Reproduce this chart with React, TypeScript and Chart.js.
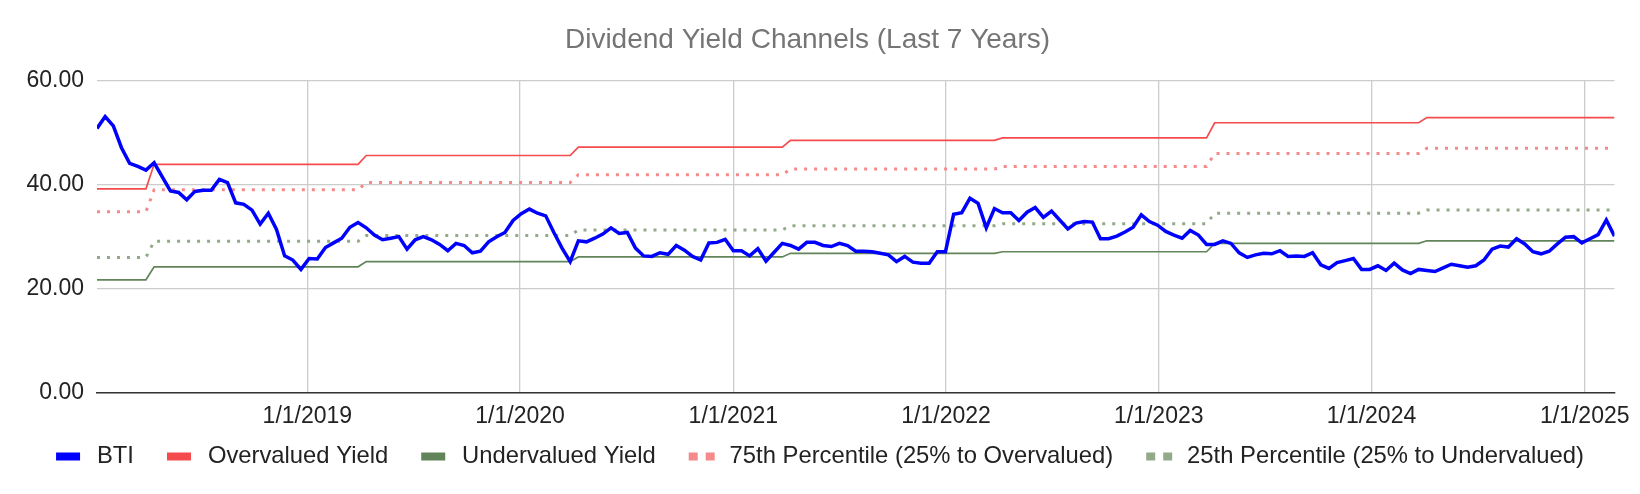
import { useEffect, useRef } from "react";
import { Chart, registerables, type ChartConfiguration, type Plugin } from "chart.js";

Chart.register(...registerables);

const DAY = 86400000;
const FIRST_DATE = Date.UTC(2018, 0, 5);
const STEP_DAYS = 14;

// BTI dividend yield, one reading every two weeks
const btiYield = [
  50.8, 53.1, 51.3, 47.1, 44.1, 43.5, 42.8, 44.2, 41.5, 38.8,
  38.5, 37.1, 38.7, 38.9, 38.9, 41.0, 40.4, 36.5, 36.2, 35.1,
  32.4, 34.5, 31.4, 26.3, 25.5, 23.7, 25.8, 25.7, 27.9, 28.8,
  29.7, 31.8, 32.7, 31.7, 30.3, 29.4, 29.7, 30.0, 27.6, 29.4,
  30.0, 29.4, 28.5, 27.3, 28.7, 28.3, 26.9, 27.2, 29.0, 30.0,
  30.8, 33.1, 34.4, 35.3, 34.5, 34.0, 30.8, 27.8, 25.2, 29.2,
  29.0, 29.7, 30.5, 31.7, 30.6, 30.8, 27.8, 26.3, 26.2, 26.9,
  26.6, 28.3, 27.4, 26.2, 25.5, 28.8, 28.9, 29.5, 27.3, 27.3,
  26.3, 27.7, 25.3, 27.0, 28.7, 28.3, 27.6, 28.9, 28.9, 28.3,
  28.1, 28.7, 28.3, 27.2, 27.2, 27.1, 26.8, 26.5, 25.2, 26.2,
  25.1, 24.9, 24.9, 27.1, 27.1, 34.3, 34.6, 37.4, 36.4, 31.7,
  35.4, 34.6, 34.6, 33.1, 34.7, 35.6, 33.7, 34.9, 33.2, 31.5,
  32.6, 32.9, 32.8, 29.6, 29.6, 30.1, 30.9, 31.8, 34.2, 32.9,
  32.2, 31.0, 30.3, 29.7, 31.2, 30.3, 28.5, 28.5, 29.2, 28.7,
  26.9, 26.0, 26.5, 26.8, 26.7, 27.3, 26.2, 26.3, 26.2, 26.9,
  24.6, 23.9, 25.0, 25.4, 25.8, 23.7, 23.7, 24.4, 23.5, 24.9,
  23.6, 22.9, 23.7, 23.5, 23.3, 24.0, 24.7, 24.4, 24.1, 24.4,
  25.5, 27.6, 28.2, 28.0, 29.6, 28.6, 27.1, 26.7, 27.2, 28.6,
  29.9, 30.0, 28.8, 29.6, 30.4, 33.2, 30.1,
];

// yield channels, reset once a year
const channelStarts = [
  "2018-01-05", "2018-04-13", "2019-04-12", "2020-04-10",
  "2021-04-09", "2022-04-08", "2023-04-07", "2024-04-05",
];
const overvaluedYield = [39.2, 43.9, 45.6, 47.2, 48.5, 49.0, 51.9, 52.9];
const pct75Yield = [34.8, 39.0, 40.4, 41.9, 43.0, 43.5, 46.0, 47.0];
const pct25Yield = [26.0, 29.1, 30.2, 31.3, 32.1, 32.5, 34.5, 35.1];
const undervaluedYield = [21.7, 24.2, 25.2, 26.1, 26.8, 27.1, 28.7, 29.2];

const yearTicks = [2019, 2020, 2021, 2022, 2023, 2024, 2025];
const yTicks = [0, 20, 40, 60];

const seriesNames = [
  "BTI",
  "Overvalued Yield",
  "Undervalued Yield",
  "75th Percentile (25% to Overvalued)",
  "25th Percentile (25% to Undervalued)",
];

const FONT = '"Liberation Sans", Arial, sans-serif';

const dates = btiYield.map((_, i) => FIRST_DATE + i * STEP_DAYS * DAY);
const startTimes = channelStarts.map((s) => Date.parse(s + "T00:00:00Z"));

function channelSeries(values: number[]) {
  return dates.map((d) => {
    let p = 0;
    startTimes.forEach((t, k) => {
      if (t <= d) p = k;
    });
    return { x: d, y: values[p] };
  });
}

const colors = ["#0000ff", "#f44c4c", "#62845a", "#f58a8a", "#93aa8a"];
const dotted = [false, false, false, true, true];

// pull the legend row up under the axis labels and centre it on the full width
const LEGEND_LIFT = 21;
const legendPlace: Plugin<"line"> = {
  id: "legendPlace",
  afterLayout(chart) {
    const legend = chart.legend;
    if (!legend) return;
    legend.top -= LEGEND_LIFT;
    legend.bottom -= LEGEND_LIFT;
    legend.left = 0;
    legend.right = chart.width;
  },
};

export default function App() {
  const canvasRef = useRef<HTMLCanvasElement | null>(null);

  useEffect(() => {
    const canvas = canvasRef.current;
    if (!canvas) return;

    const config: ChartConfiguration<"line"> = {
      type: "line",
      data: {
        datasets: [
          {
            label: seriesNames[0],
            data: dates.map((d, i) => ({ x: d, y: btiYield[i] })),
            borderColor: colors[0],
            borderWidth: 3.5,
          },
          {
            label: seriesNames[1],
            data: channelSeries(overvaluedYield),
            borderColor: colors[1],
            borderWidth: 1.7,
          },
          {
            label: seriesNames[2],
            data: channelSeries(undervaluedYield),
            borderColor: colors[2],
            borderWidth: 1.7,
          },
          {
            label: seriesNames[3],
            data: channelSeries(pct75Yield),
            borderColor: colors[3],
            borderWidth: 3,
            borderDash: [3, 7],
          },
          {
            label: seriesNames[4],
            data: channelSeries(pct25Yield),
            borderColor: colors[4],
            borderWidth: 3,
            borderDash: [3, 7],
          },
        ],
      },
      plugins: [legendPlace],
      options: {
        responsive: false,
        animation: false,
        layout: { padding: { left: 0, right: 25, top: 0, bottom: 0 } },
        elements: {
          point: { radius: 0, hoverRadius: 0 },
          line: { tension: 0, fill: false },
        },
        plugins: {
          title: {
            display: true,
            text: "Dividend Yield Channels (Last 7 Years)",
            color: "#757575",
            font: { family: FONT, size: 28, weight: "normal" },
            padding: { top: 23, bottom: 24 },
          },
          legend: {
            position: "bottom",
            maxHeight: 61.3,
            labels: {
              color: "#222",
              font: { family: FONT, size: 23.8 },
              padding: 33,
              usePointStyle: true,
              pointStyleWidth: 29,
              boxHeight: 8,
              generateLabels: (chart) =>
                chart.data.datasets.map((ds, i) => ({
                  text: ds.label as string,
                  datasetIndex: i,
                  fillStyle: colors[i],
                  strokeStyle: colors[i],
                  fontColor: "#222",
                  lineWidth: 8,
                  lineCap: "butt",
                  lineDash: dotted[i] ? [9, 8] : [24, 100],
                  lineDashOffset: 0,
                  pointStyle: "line",
                  hidden: !chart.isDatasetVisible(i),
                })),
            },
          },
          tooltip: { enabled: false },
        },
        scales: {
          x: {
            type: "linear",
            min: dates[0],
            max: dates[dates.length - 1],
            afterBuildTicks: (scale) => {
              scale.ticks = yearTicks.map((y) => ({ value: Date.UTC(y, 0, 1) }));
            },
            afterFit: (scale) => {
              scale.height = 40;
            },
            ticks: {
              autoSkip: false,
              maxRotation: 0,
              padding: 10,
              color: "#222",
              font: { family: FONT, size: 23 },
              callback: (v) => `1/1/${new Date(Number(v)).getUTCFullYear()}`,
            },
            grid: { color: "#cccccc", lineWidth: 1.3, drawTicks: false },
            border: { display: true, color: "#333333", width: 1.6 },
          },
          y: {
            min: 0,
            max: 60,
            afterBuildTicks: (scale) => {
              scale.ticks = yTicks.map((v) => ({ value: v }));
            },
            afterFit: (scale) => {
              scale.width = 97;
            },
            ticks: {
              padding: 13,
              color: "#222",
              font: { family: FONT, size: 23 },
              callback: (v) => Number(v).toFixed(2),
            },
            grid: { color: "#cccccc", lineWidth: 1.3, drawTicks: false },
            border: { display: false },
          },
        },
      },
    };

    const chart = new Chart(canvas, config);
    return () => {
      chart.destroy();
    };
  }, []);

  return (
    <div
      style={{
        position: "absolute",
        left: 0,
        top: 0,
        width: 1640,
        height: 494,
        background: "#ffffff",
      }}
    >
      <canvas ref={canvasRef} width={1640} height={494} />
    </div>
  );
}
